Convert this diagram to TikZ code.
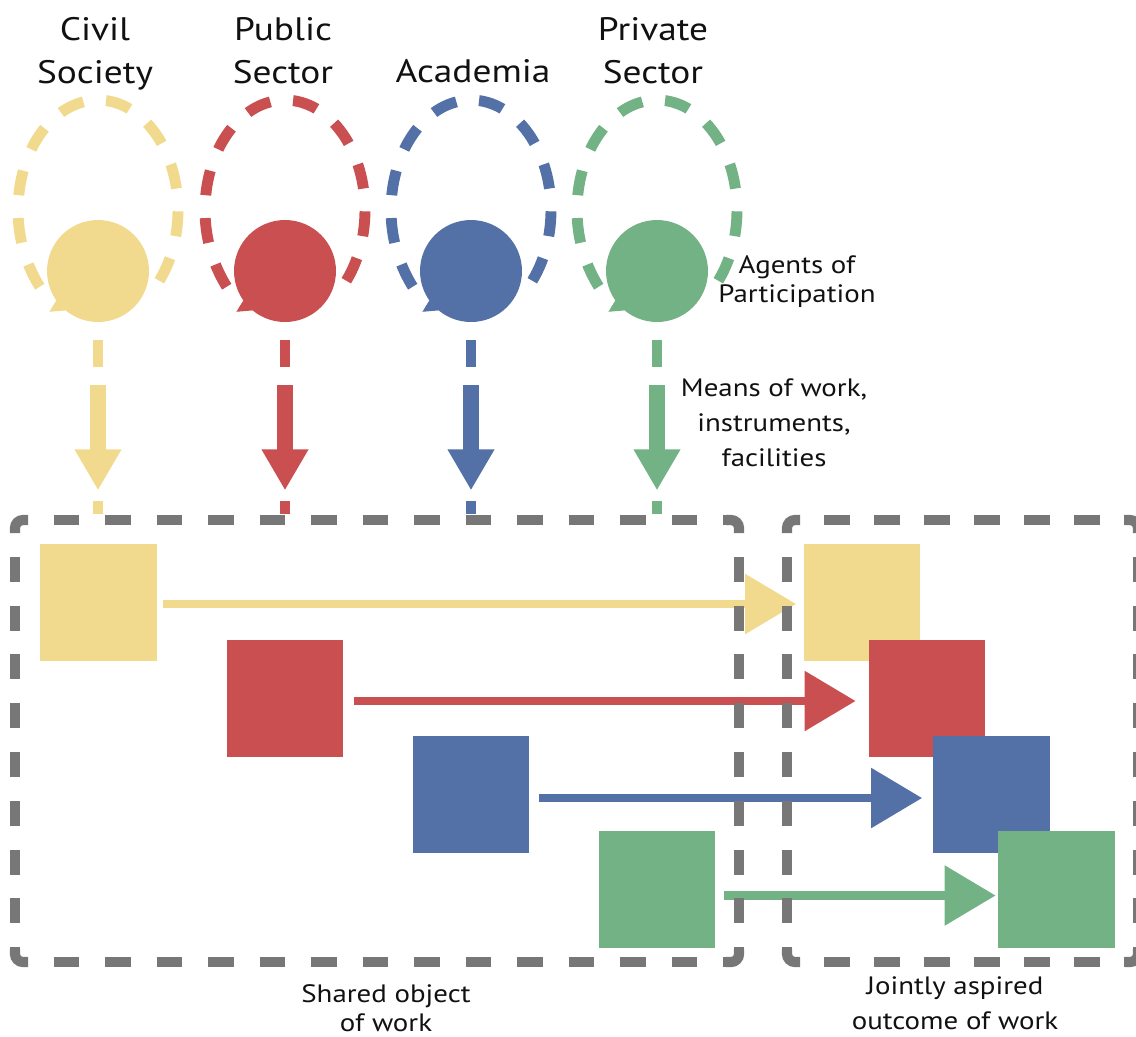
\documentclass[tikz,border=0pt]{standalone}
\usepackage{fontspec}
\setmainfont{PT Sans}[FakeStretch=1.15]
\usetikzlibrary{arrows.meta,calc}

\definecolor{cyel}{HTML}{F1DA8E}
\definecolor{cred}{HTML}{C94F51}
\definecolor{cblue}{HTML}{5370A7}
\definecolor{cgreen}{HTML}{73B285}
\definecolor{cgray}{HTML}{777777}
\definecolor{ctext}{HTML}{111111}

% A dashed frame with an L-shaped dash on every corner.
% #1 = name prefix (coordinates #1nw and #1se must exist),
% #2 = gap on the horizontal sides, #3 = gap on the vertical sides
\newcommand{\dashedframe}[3]{%
  \coordinate (#1ne) at (#1se |- #1nw);
  \coordinate (#1sw) at (#1nw |- #1se);
  \draw[frame,rounded corners=1.6mm] ($(#1nw)+(0,-13)$) |- ($(#1nw)+(13,0)$);
  \draw[frame,rounded corners=1.6mm] ($(#1ne)+(-13,0)$) -| ($(#1ne)+(0,-13)$);
  \draw[frame,rounded corners=1.6mm] ($(#1se)+(0,13)$) |- ($(#1se)+(-13,0)$);
  \draw[frame,rounded corners=1.6mm] ($(#1sw)+(13,0)$) -| ($(#1sw)+(0,13)$);
  \draw[frame,dash pattern=on 14.74pt off #2,dash phase=14.74pt]
    ($(#1nw)+(13,0)$) -- ($(#1ne)+(-13,0)$);
  \draw[frame,dash pattern=on 14.74pt off #2,dash phase=14.74pt]
    ($(#1sw)+(13,0)$) -- ($(#1se)+(-13,0)$);
  \draw[frame,dash pattern=on 14.17pt off #3,dash phase=14.17pt]
    ($(#1nw)+(0,-13)$) -- ($(#1sw)+(0,13)$);
  \draw[frame,dash pattern=on 14.17pt off #3,dash phase=14.17pt]
    ($(#1ne)+(0,-13)$) -- ($(#1se)+(0,13)$);
}

\begin{document}
\begin{tikzpicture}[x=0.02cm,y=0.02cm,
  agent/.style={circle,fill=#1,minimum size=2.04cm,inner sep=0pt},
  item/.style={rectangle,fill=#1,minimum size=2.34cm,inner sep=0pt},
  loopline/.style={draw=#1,line width=6.2pt,dash pattern=on 14.2pt off 13pt,
    -{Triangle[length=0.26cm,width=0.36cm]}},
  means/.style={draw=#1,line width=6.2pt},
  feed/.style={draw=#1,line width=9.2pt,-{Triangle[length=0.82cm,width=0.88cm]}},
  flow/.style={draw=#1,line width=5.1pt,-{Triangle[length=1.02cm,width=1.16cm]}},
  frame/.style={draw=cgray,line width=5.8pt},
  lbl/.style={align=center,text=ctext,inner sep=0pt},
  head/.style={font=\fontsize{18.5}{24.9}\selectfont,align=center,text=ctext,inner sep=0pt},
]
\useasboundingbox (0,0) rectangle (1136,-1036);

% agent positions
\coordinate (a1) at (98,-271);
\coordinate (a2) at (285,-271);
\coordinate (a3) at (471,-271);
\coordinate (a4) at (657,-271);

% self-referencing loops, drawn behind the agents
\foreach \a/\c in {a1/cyel,a2/cred,a3/cblue,a4/cgreen}{
  \draw[loopline=\c] ($(\a)+({80*cos(-40)},{61+110*sin(-40)})$)
    arc[start angle=-40,end angle=246,x radius=1.6cm,y radius=2.2cm];
}

% agents of participation
\node[agent=cyel]   (c1) at (a1) {};
\node[agent=cred]   (c2) at (a2) {};
\node[agent=cblue]  (c3) at (a3) {};
\node[agent=cgreen] (c4) at (a4) {};

% means of work flowing into the shared object
\foreach \a/\c in {c1/cyel,c2/cred,c3/cblue,c4/cgreen}{
  \draw[means=\c] ($(\a.south)+(0,-18)$) -- ($(\a.south)+(0,-45)$);
  \draw[feed=\c]  ($(\a.south)+(0,-63)$) -- ($(\a.south)+(0,-168)$);
  \draw[means=\c] ($(\a.south)+(0,-179)$) -- ($(\a.south)+(0,-192)$);
}

% shared objects of work
\node[item=cyel]   (s1) at (98.5,-602.5) {};
\node[item=cred]   (s2) at (285,-698)    {};
\node[item=cblue]  (s3) at (471,-794)    {};
\node[item=cgreen] (s4) at (657,-889.5)  {};

% jointly aspired outcomes
\node[item=cyel]   (t1) at (862,-602.5)  {};
\node[item=cred]   (t2) at (927,-698)    {};
\node[item=cblue]  (t3) at (991.5,-794)  {};
\node[item=cgreen] (t4) at (1056,-889.5) {};

% transformation arrows
\draw[flow=cyel]   ($(s1.east)+(6,-1.5)$) -- ($(t1.west)+(-7,-1.5)$);
\draw[flow=cred]   ($(s2.east)+(10,-3)$)  -- ($(t2.west)+(-12.5,-3)$);
\draw[flow=cblue]  ($(s3.east)+(9,-4)$)   -- ($(t3.west)+(-10.5,-4)$);
\draw[flow=cgreen] ($(s4.east)+(8,-6)$)   -- ($(t4.west)+(-1.5,-6)$);

% frames
\coordinate (Lnw) at (15,-520);
\coordinate (Lse) at (739,-962);
\coordinate (Rnw) at (787,-520);
\coordinate (Rse) at (1138,-962);
\dashedframe{L}{14.57pt}{13.6pt}
\dashedframe{R}{13.68pt}{13.6pt}

% labels
\node[head] (hcs) at (95,-53.2)  {Civil\strut\\Society\strut};
\node[head] (hps) at (283,-53.2) {Public\strut\\Sector\strut};
\node[head] (hac) at (473,-74.2) {Academia\strut};
\node[head] (hpr) at (653,-53.2) {Private\strut\\Sector\strut};
\node[lbl,font=\fontsize{14.3}{17}\selectfont] (lag) at (797,-282)
  {Agents of\strut\\Participation\strut};
\node[lbl,font=\fontsize{14.3}{20.1}\selectfont] (lme) at (774,-424.4)
  {Means of work,\strut\\instruments,\strut\\facilities\strut};
\node[lbl,font=\fontsize{14.3}{16.4}\selectfont] (lsh) at (386,-1011)
  {Shared object\strut\\of work\strut};
\node[lbl,font=\fontsize{14.3}{19.8}\selectfont] (ljo) at (955,-1005)
  {Jointly aspired\strut\\outcome of work\strut};
\end{tikzpicture}
\end{document}
